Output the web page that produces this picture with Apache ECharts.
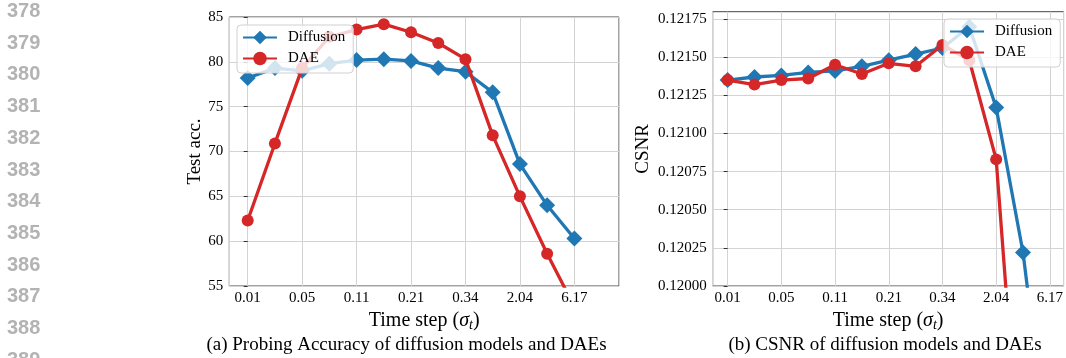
<!DOCTYPE html>
<html><head><meta charset="utf-8">
<script src="https://cdn.jsdelivr.net/npm/echarts@6/dist/echarts.min.js"></script>
<style>html,body{margin:0;padding:0;background:#fff}#c{width:1066px;height:358px}</style>
</head><body><div id="c"></div>
<script>
// ---- data ----
const xTickLabels = ['0.01', '0.05', '0.11', '0.21', '0.34', '2.04', '6.17'];
const accDiffusion = [78.2, 79.3, 79.0, 79.8, 80.2, 80.3, 80.1, 79.3, 78.9, 76.6, 68.6, 64.0, 60.3];
const accDAE = [62.3, 70.9, 79.3, 82.8, 83.6, 84.2, 83.3, 82.1, 80.3, 71.8, 65.0, 58.6, 52.7, 47.0];
const csnrDiffusion = [0.12135, 0.12137, 0.12138, 0.12140, 0.12141, 0.12144, 0.12148, 0.12152, 0.12156, 0.12170, 0.12117, 0.12022, 0.11880];
const csnrDAE = [0.12135, 0.12132, 0.12135, 0.12136, 0.12145, 0.12139, 0.12146, 0.12144, 0.12158, 0.12148, 0.12083, 0.11850, 0.11700];
const csnrTicks = ['0.12000', '0.12025', '0.12050', '0.12075', '0.12100', '0.12125', '0.12150', '0.12175'];
const lineNumbers = ['378', '379', '380', '381', '382', '383', '384', '385', '386', '387', '388', '389'];
const seriesNames = ['Diffusion', 'DAE'];
const captions = ['(a) Probing Accuracy of diffusion models and DAEs', '(b) CSNR of diffusion models and DAEs'];

// ---- styles ----
const BLUE = '#1f77b4', RED = '#d62728';
const SERIF = 'Liberation Serif';
const tickVals = xTickLabels.map((_, i) => i * 2);
const pairs = arr => arr.map((v, i) => [i, v]);

function xAxis(gridIndex, min, max) {
  return {
    type: 'value', gridIndex, min, max, minInterval: 2, maxInterval: 2,
    axisLine: { show: false },
    axisTick: { show: false },
    axisLabel: {
      customValues: tickVals,
      formatter: v => { const r = Math.round(v); return (Math.abs(v - r) < 1e-6 && r % 2 === 0 && r >= 0 && r <= 12) ? xTickLabels[r / 2] : ''; },
      color: '#000', fontFamily: SERIF, fontSize: 15, margin: 5
    },
    splitLine: { show: true, lineStyle: { color: '#d3d3d3', width: 1 } },
    name: 'Time step ({s|σ}{sub|t})',
    nameLocation: 'middle', nameGap: 23,
    nameTextStyle: {
      color: '#000', fontFamily: SERIF, fontSize: 20,
      rich: {
        s: { fontFamily: SERIF, fontStyle: 'italic', fontSize: 20, color: '#000' },
        sub: { fontFamily: SERIF, fontStyle: 'italic', fontSize: 14, color: '#000', padding: [8, 0, 0, 0] }
      }
    }
  };
}

function yAxis(gridIndex, min, max, interval, name, nameGap, fmt, tickValues) {
  return {
    type: 'value', gridIndex, min, max, interval,
    axisLine: { show: false },
    axisTick: Object.assign({ show: true, length: 4, lineStyle: { color: '#333' } }, tickValues ? { customValues: tickValues } : {}),
    axisLabel: { color: '#000', fontFamily: SERIF, fontSize: 15, margin: 6, formatter: fmt },
    splitLine: { show: true, lineStyle: { color: '#d3d3d3', width: 1 } },
    name, nameLocation: 'middle', nameGap, nameRotate: 90,
    nameTextStyle: { color: '#000', fontFamily: SERIF, fontSize: 19 }
  };
}

function makeSeries(name, data, xi, yi) {
  const isDiff = name === 'Diffusion';
  return {
    type: 'line', name, data, xAxisIndex: xi, yAxisIndex: yi,
    symbol: isDiff ? 'diamond' : 'circle',
    symbolSize: isDiff ? 16 : 12,
    showAllSymbol: true,
    color: isDiff ? BLUE : RED,
    lineStyle: { width: 3.3, color: isDiff ? BLUE : RED },
    itemStyle: { color: isDiff ? BLUE : RED },
    clip: true, z: isDiff ? 2 : 3
  };
}

function legend(left, top) {
  return {
    data: seriesNames, orient: 'vertical', left, top,
    itemWidth: 34, itemHeight: 17, itemGap: 6,
    padding: [5, 8, 7, 5],
    backgroundColor: 'rgba(255,255,255,0.8)', borderColor: '#d0d0d0', borderWidth: 1, borderRadius: 4,
    textStyle: { color: '#000', fontFamily: SERIF, fontSize: 15, padding: [0, 0, 0, 6] },
    selectedMode: false
  };
}

const graphics = lineNumbers.map((t, i) => ({
  type: 'text', left: 7, top: 11.5 + i * 31.7 - 10,
  style: { text: t, fill: '#b3b3b3', font: 'bold 20px "Liberation Sans", Arial, sans-serif' }
}));
graphics.push({ type: 'text', style: { text: captions[0], x: 406.5, y: 345, textAlign: 'center', textVerticalAlign: 'middle', fill: '#000', font: '19px "Liberation Serif"' } });
graphics.push({ type: 'text', style: { text: captions[1], x: 885, y: 345, textAlign: 'center', textVerticalAlign: 'middle', fill: '#000', font: '19px "Liberation Serif"' } });

const chart = echarts.init(document.getElementById('c'), null, { renderer: 'canvas' });
chart.setOption({
  animation: false,
  backgroundColor: '#fff',
  grid: [
    { left: 229.3, top: 17, width: 389.7, height: 269, show: true, borderColor: '#444', borderWidth: 1, backgroundColor: 'transparent', containLabel: false },
    { left: 712.7, top: 11.7, width: 352.5, height: 274.3, show: true, borderColor: '#444', borderWidth: 1, backgroundColor: 'transparent', containLabel: false }
  ],
  xAxis: [xAxis(0, -0.676, 13.64), xAxis(1, -0.556, 12.51)],
  yAxis: [
    yAxis(0, 55, 85, 5, 'Test acc.', 24, v => String(v)),
    yAxis(1, 0.12, 0.121798, 0.00025, 'CSNR', 60,
      v => { const k = Math.round((v - 0.12) / 0.00025); return Math.abs((v - 0.12) / 0.00025 - k) < 1e-6 && csnrTicks[k] ? csnrTicks[k] : ''; },
      csnrTicks.map(Number))
  ],
  legend: [legend(237, 25), legend(944, 19)],
  series: [
    makeSeries('Diffusion', pairs(accDiffusion), 0, 0),
    makeSeries('DAE', pairs(accDAE), 0, 0),
    makeSeries('Diffusion', pairs(csnrDiffusion), 1, 1),
    makeSeries('DAE', pairs(csnrDAE), 1, 1)
  ],
  graphic: graphics
});
</script></body></html>
